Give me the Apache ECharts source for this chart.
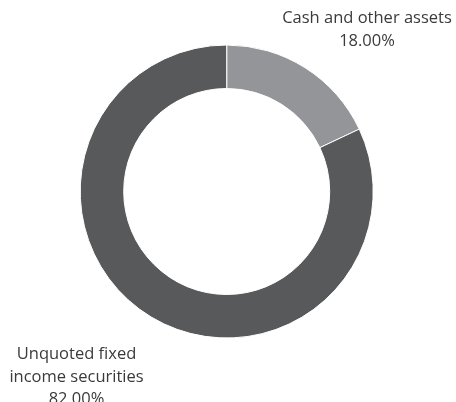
<!DOCTYPE html>
<html><head><meta charset="utf-8">
<script src="https://cdn.jsdelivr.net/npm/echarts@6/dist/echarts.min.js"></script>
<style>html,body{margin:0;padding:0;background:#fff}#c{width:456px;height:402px}</style>
</head><body><div id="c"></div>
<script>
const categories = ["Cash and other assets", "Unquoted fixed\nincome securities"];
const values = [18.00, 82.00];
const colors = ["#939598", "#58595b"];

const chart = echarts.init(document.getElementById('c'), null, {renderer: 'canvas'});
chart.setOption({
  animation: false,
  series: [{
    type: 'pie',
    center: [226.7, 191.5],
    radius: [103, 146.5],
    startAngle: 90,
    clockwise: true,
    silent: true,
    itemStyle: {borderColor: '#fff', borderWidth: 1},
    labelLine: {show: false},
    label: {
      show: true,
      position: 'outside',
      formatter: p => p.name + '\n' + p.value.toFixed(2) + '%',
      fontFamily: 'Open Sans',
      fontSize: 16.5,
      color: '#3a3a3a',
      align: 'center',
      overflow: 'none',
      width: 300
    },
    labelLayout: function (params) {
      if (params.dataIndex === 0) {
        return {x: 367, y: 29.5, align: 'center', verticalAlign: 'middle'};
      }
      return {x: 76.5, y: 377, align: 'center', verticalAlign: 'middle'};
    },
    data: categories.map((c, i) => ({
      name: c, value: values[i],
      itemStyle: {color: colors[i]},
      label: {lineHeight: i === 0 ? 23 : 22.5}
    }))
  }]
});
</script></body></html>
